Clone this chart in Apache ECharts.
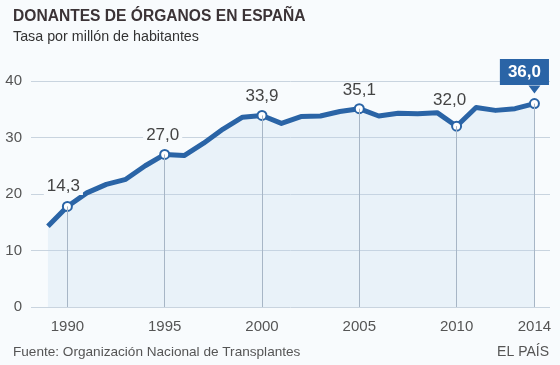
<!DOCTYPE html>
<html><head><meta charset="utf-8">
<script src="https://cdn.jsdelivr.net/npm/echarts@6/dist/echarts.min.js"></script>
<style>html,body{margin:0;padding:0;background:#f8fbfd}#c{width:560px;height:365px}</style>
</head><body><div id="c"></div>
<script>
const years = [1989,1990,1991,1992,1993,1994,1995,1996,1997,1998,1999,2000,2001,2002,2003,2004,2005,2006,2007,2008,2009,2010,2011,2012,2013,2014];
const values = [14.3,17.8,20.2,21.7,22.6,25.0,27.0,26.8,29.0,31.5,33.6,33.9,32.5,33.7,33.8,34.6,35.1,33.8,34.3,34.2,34.4,32.0,35.3,34.8,35.1,36.0];
const tickYears = [1990,1995,2000,2005,2010,2014];
const yTicks = [0,10,20,30,40];
const labelYears = [1990,1995,2000,2005,2010,2014];
const labelTexts = ['14,3','27,0','33,9','35,1','32,0','36,0'];

const blue = '#2a64a6';
const valueAt = y => values[years.indexOf(y)];
const labelOffsets = {1990:[-4,-1],1995:[-2,0],2000:[0,0],2005:[0,1],2010:[-7,-7]};

const lineData = years.map((y,i)=>{
  const li = labelYears.indexOf(y);
  const item = {value:[y, values[i]]};
  if (li >= 0) {
    item.symbol = 'circle';
    item.symbolSize = 9;
    if (y === 2014) {
      item.label = {show:true, position:'top', distance:13, offset:[-10,0],
        formatter: labelTexts[li], color:'#fff', fontWeight:'bold', fontSize:17,
        fontFamily:'Liberation Sans', backgroundColor: blue, padding:[5,8,4,8]};
    } else {
      item.label = {show:true, position:'top', distance:5, offset: labelOffsets[y] || [0,0],
        formatter: labelTexts[li], color:'#444', fontSize:17, fontFamily:'Liberation Sans',
        backgroundColor:'#f8fbfd', padding:[0,3]};
    }
  } else {
    item.symbol = 'none';
  }
  return item;
});

const chart = echarts.init(document.getElementById('c'), null, {renderer:'canvas'});
chart.setOption({
  backgroundColor:'#f8fbfd',
  animation:false,
  title:[
    {text:'DONANTES DE ÓRGANOS EN ESPAÑA', left:8, top:4, textStyle:{fontFamily:'Liberation Sans', fontWeight:'bold', fontSize:15.6, color:'#3b3336'}},
    {text:'Tasa por millón de habitantes', left:8, top:25, textStyle:{fontFamily:'Liberation Sans', fontWeight:'normal', fontSize:14.3, color:'#333'}},
    {text:'Fuente: Organización Nacional de Transplantes', left:8, top:340, textStyle:{fontFamily:'Liberation Sans', fontWeight:'normal', fontSize:13.6, color:'#555'}},
    {text:'EL PAÍS', right:6, top:340, textStyle:{fontFamily:'Liberation Sans', fontWeight:'normal', fontSize:14, color:'#555'}}
  ],
  grid:{left:31, right:10, top:81, bottom:58},
  xAxis:{type:'value', min:1988.13, max:2014.8,
    axisLine:{show:false}, axisTick:{show:false}, splitLine:{show:false},
    axisLabel:{customValues: tickYears, color:'#555', fontSize:15, fontFamily:'Liberation Sans', margin:12, formatter: v=>String(v)}
  },
  yAxis:{type:'value', min:0, max:40, interval:10,
    axisLine:{show:false}, axisTick:{show:false},
    splitLine:{lineStyle:{color:'#c9d4df', width:1}},
    axisLabel:{color:'#555', fontSize:15, fontFamily:'Liberation Sans', margin:9, formatter: v=> yTicks.includes(v)? String(v):''}
  },
  series:[
    {type:'line', z:1, data:[], silent:true,
      markLine:{silent:true, symbol:'none', label:{show:false}, animation:false,
        lineStyle:{color:'#a7b6c6', width:1, type:'solid'},
        data: tickYears.map(y=>[{coord:[y,0]},{coord:[y,valueAt(y)]}])}
    },
    {type:'line', z:3, data:lineData, showSymbol:true, symbol:'none',
      lineStyle:{color:blue, width:5, join:'round'},
      itemStyle:{color:'#fff', borderColor:blue, borderWidth:2},
      areaStyle:{color:'rgba(190,212,238,0.35)', origin:'start'},
      markPoint:{silent:true, symbol:'triangle', symbolRotate:180, symbolSize:[12,8], symbolOffset:[0,-14],
        itemStyle:{color:blue}, label:{show:false},
        data:[{coord:[2014, valueAt(2014)]}]}
    }
  ]
});
</script></body></html>
